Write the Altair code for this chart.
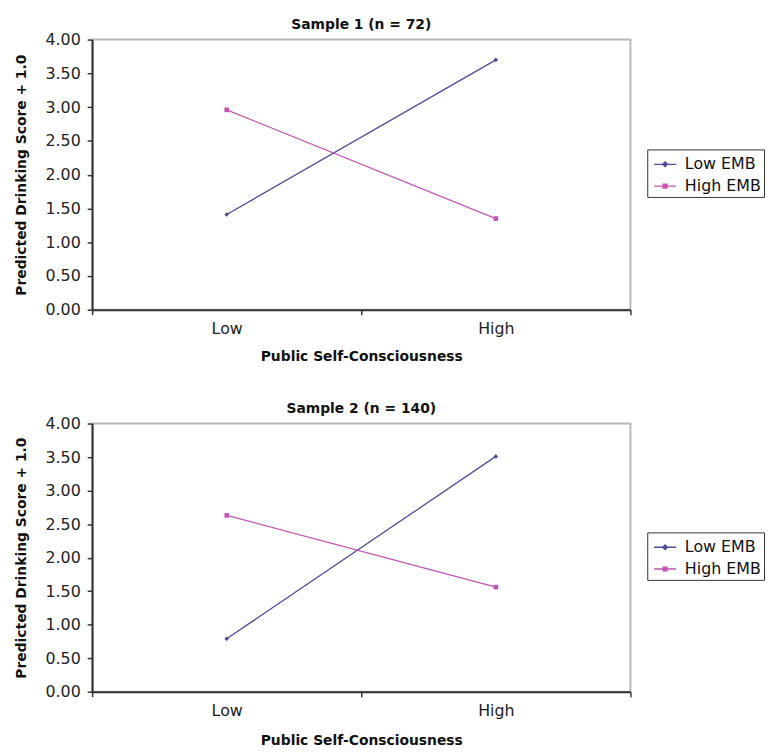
import altair as alt
import pandas as pd

# ---- data ----
levels = ["Low", "High"]
series = ["Low EMB", "High EMB"]
sample1_low_emb = [1.41, 3.70]
sample1_high_emb = [2.96, 1.35]
sample2_low_emb = [0.79, 3.51]
sample2_high_emb = [2.63, 1.56]
y_ticks = [0.0, 0.5, 1.0, 1.5, 2.0, 2.5, 3.0, 3.5, 4.0]

colors = ["#4d4d99", "#c455b4"]
marker_shapes = ["diamond", "square"]
legend_shapes = ["M-1,0H1M0,-0.22L0.22,0L0,0.22L-0.22,0Z",
                 "M-1,0H1M-0.18,-0.18H0.18V0.18H-0.18Z"]
FONT = "DejaVu Sans"


def make_df(low_vals, high_vals):
    rows = []
    for lvl, v in zip(levels, low_vals):
        rows.append({"psc": lvl, "score": v, "series": series[0]})
    for lvl, v in zip(levels, high_vals):
        rows.append({"psc": lvl, "score": v, "series": series[1]})
    return pd.DataFrame(rows)


def panel(df, title, legend_y, h, xtitle_pad):
    x = alt.X("psc:N", sort=levels,
              scale=alt.Scale(domain=levels, paddingInner=0, paddingOuter=0),
              axis=alt.Axis(title="Public Self-Consciousness", labelAngle=0,
                            tickBand="extent", tickSize=5, labelPadding=6,
                            titlePadding=xtitle_pad))
    y = alt.Y("score:Q", scale=alt.Scale(domain=[0, 4], nice=False),
              axis=alt.Axis(title="Predicted Drinking Score + 1.0",
                            values=y_ticks, format=".2f", tickSize=5,
                            labelPadding=7, titlePadding=17, grid=False))
    color = alt.Color("series:N", scale=alt.Scale(domain=series, range=colors),
                      legend=None)
    line = alt.Chart(df).mark_line(strokeWidth=1.3).encode(x=x, y=y, color=color)
    pts = [
        alt.Chart(df).mark_point(filled=True, size=22, opacity=1, shape=shp)
        .encode(x=x, y=y, color=color)
        .transform_filter(alt.datum.series == s)
        for s, shp in zip(series, marker_shapes)
    ]
    leg = alt.Legend(
        title=None, orient="none", legendX=561, legendY=legend_y,
        strokeColor="#333333", fillColor="white", padding=3,
        symbolSize=484, symbolStrokeWidth=1.3, symbolOpacity=1,
        symbolOffset=3, labelOffset=8, rowPadding=2,
        labelFontSize=16, labelFont=FONT, labelColor="#111111")
    legend_layer = alt.Chart(df).mark_point(filled=True, opacity=0, size=10).encode(
        x=x, y=y,
        fill=alt.Fill("series:N", scale=alt.Scale(domain=series, range=colors), legend=leg),
        stroke=alt.Stroke("series:N", scale=alt.Scale(domain=series, range=colors), legend=leg),
        shape=alt.Shape("series:N", scale=alt.Scale(domain=series, range=legend_shapes), legend=leg),
    )
    return alt.layer(line, *pts, legend_layer).properties(
        width=544, height=h,
        title=alt.TitleParams(title, fontSize=14, font=FONT, fontWeight="bold",
                              anchor="middle", offset=0, color="#111111"))


top = panel(make_df(sample1_low_emb, sample1_high_emb), "Sample 1 (n = 72)", 111, 273, 13)
bottom = panel(make_df(sample2_low_emb, sample2_high_emb), "Sample 2 (n = 140)", 110, 271, 15)

chart = alt.vconcat(top, bottom, spacing=37).resolve_legend(
    fill="independent", stroke="independent", shape="independent"
).properties(
    background="white",
    padding={"left": 5, "top": 5, "right": 0, "bottom": 0}
).configure_view(
    stroke="#b8b8b8", strokeWidth=2
).configure_axis(
    domainColor="#333333", domainWidth=2, tickColor="#333333", tickWidth=1.5,
    labelFont=FONT, labelFontSize=16, labelColor="#222222",
    titleFont=FONT, titleFontSize=14, titleFontWeight="bold", titleColor="#111111"
)

chart.save("out.html", embed_options={"renderer": "svg", "actions": False})
